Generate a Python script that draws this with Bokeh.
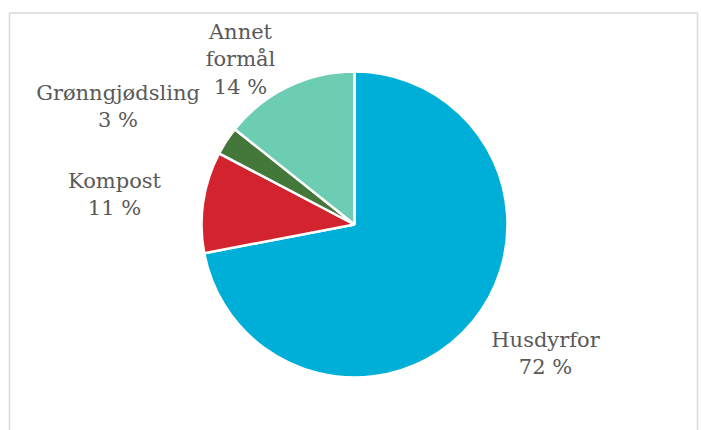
import math
from bokeh.plotting import figure
from bokeh.models import Range1d, ColumnDataSource
from bokeh.core.properties import value
from bokeh.embed import file_html
from bokeh.resources import INLINE

# ---- data ----
categories = ["Husdyrfor", "Kompost", "Grønngjødsling", "Annet formål"]
shares = [72.0, 10.7, 3.0, 14.3]
label_names = ["Husdyrfor", "Kompost", "Grønngjødsling", "Annet\nformål"]
colors = ["#00AFD7", "#D2232F", "#44773A", "#6CCDB3"]

# ---- layout (pixel-based data space, y measured from bottom) ----
W, H = 701, 430
cx, cy, R = 354, 206, 153
label_pos = [(545, 91), (114, 250), (117.5, 338), (240, 399)]  # center x, first line y
line_gap = 27.5

p = figure(width=W, height=H, output_backend="svg", toolbar_location=None,
           x_range=Range1d(0, W), y_range=Range1d(0, H),
           x_axis_type=None, y_axis_type=None, min_border=0,
           background_fill_color="white", border_fill_color="white")
p.grid.visible = False
p.outline_line_color = None

total = sum(shares)
starts, ends = [], []
acc = 0.0
for s in shares:
    a0 = math.pi / 2 - 2 * math.pi * acc / total
    acc += s
    a1 = math.pi / 2 - 2 * math.pi * acc / total
    starts.append(a0)
    ends.append(a1)

src = ColumnDataSource(dict(x=[cx] * len(shares), y=[cy] * len(shares),
                            start=starts, end=ends, color=colors, cat=categories))
p.wedge(x="x", y="y", radius=R, radius_units="data", start_angle="start", end_angle="end",
        direction="clock", fill_color="color", line_color="white", line_width=2.5, source=src)

# labels
tx, ty, tt = [], [], []
for name, s, (lx, ly) in zip(label_names, shares, label_pos):
    lines = name.split("\n") + [f"{round(s / total * 100)} %"]
    for i, ln in enumerate(lines):
        tx.append(lx)
        ty.append(ly - i * line_gap)
        tt.append(ln)
p.text(x=tx, y=ty, text=tt, text_align="center", text_baseline="alphabetic",
       text_font=value("DejaVu Serif"), text_font_size="21px", text_color="#595959")

# chart-area border (open at the bottom, as in the reference)
p.line(x=[9, 9, 697, 697], y=[-10, 417.5, 417.5, -10], line_color="#D9D9D9", line_width=1.5)

open("out.html", "w").write(file_html(p, INLINE))
